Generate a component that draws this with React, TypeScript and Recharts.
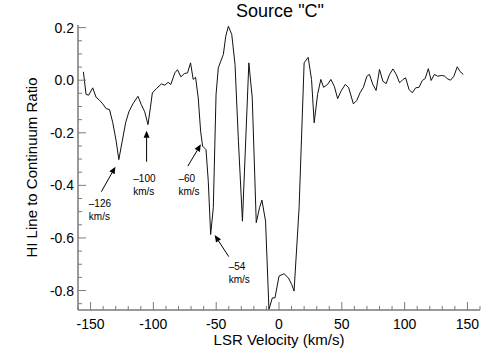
import { LineChart, Line, XAxis, YAxis, ReferenceLine, ReferenceDot } from "recharts";

// LSR velocity (km/s) and HI line-to-continuum ratio
const velocity = [
  -155.7, -153.6, -151.5, -148.3, -145.6, -142.9, -140.3, -137.6, -134.9, -132.3,
  -129.6, -127.5, -124.8, -122.1, -119.5, -116.3, -112.3, -109.6, -106.9, -104.3,
  -102.4, -100.8, -97.6, -93.6, -90.9, -88.3, -86.1, -82.9, -80.8, -78.1,
  -75.4, -72.8, -70.4, -68.3, -66.4, -64.3, -62.4, -60.8, -58.1, -56.3,
  -54.4, -52.3, -50.1, -48.3, -46.4, -44.3, -42.4, -40.3, -37.6, -35.0,
  -32.3, -29.1, -24.0, -21.3, -18.1, -15.5, -13.6, -10.7, -8.0, -5.3,
  -3.2, 0.0, 4.0, 7.5, 10.1, 12.0, 16.0, 20.0, 23.2, 25.9,
  28.0, 30.7, 33.3, 35.5, 38.7, 41.3, 44.0, 46.7, 49.3, 52.8,
  55.5, 59.2, 61.9, 64.5, 67.2, 69.9, 72.0, 74.7, 77.3, 80.0,
  82.7, 85.3, 88.0, 90.7, 93.3, 96.0, 98.7, 100.8, 103.5, 106.1,
  108.8, 111.5, 114.1, 116.3, 118.9, 121.1, 123.7, 126.4, 129.1, 131.7,
  133.9, 136.5, 139.2, 141.9, 144.0, 146.7,
];
const ratio = [
  0.032, -0.054, -0.057, -0.029, -0.065, -0.076, -0.09, -0.108, -0.112, -0.162,
  -0.232, -0.302, -0.232, -0.162, -0.12, -0.09, -0.061, -0.093, -0.12, -0.169,
  -0.105, -0.048, -0.032, -0.014, -0.019, -0.008, -0.016, 0.028, 0.04, 0.013,
  0.025, 0.028, 0.066, 0.003, 0.011, -0.067, -0.194, -0.251, -0.264, -0.384,
  -0.587, -0.485, -0.054, 0.047, 0.072, 0.098, 0.167, 0.205, 0.174, 0.06,
  -0.232, -0.536, 0.066, -0.067, -0.542, -0.485, -0.456, -0.536, -0.872, -0.828,
  -0.828, -0.745, -0.736, -0.752, -0.777, -0.802, -0.485, 0.066, 0.087, 0.003,
  -0.162, -0.054, 0.003, -0.027, -0.016, 0.003, -0.023, -0.07, -0.042, -0.016,
  -0.029, -0.09, -0.077, -0.048, -0.027, 0.015, 0.022, -0.016, -0.039, 0.041,
  -0.004, -0.013, 0.022, 0.043, 0.022, -0.01, 0.003, 0.009, -0.035, -0.048,
  -0.029, -0.027, -0.001, 0.006, 0.044, -0.001, 0.022, 0.015, 0.018, 0.016,
  0.006, 0, 0.015, 0.051, 0.034, 0.022,
];

const xMajorTicks = [-150, -100, -50, 0, 50, 100, 150];
const xMinorTicks = [
  -160, -140, -130, -120, -110, -90, -80, -70, -60, -40, -30, -20, -10,
  10, 20, 30, 40, 60, 70, 80, 90, 110, 120, 130, 140, 160,
];
const yMajorTicks = [-0.8, -0.6, -0.4, -0.2, 0.0, 0.2];
const yMinorTicks = [-0.85, -0.75, -0.7, -0.65, -0.55, -0.5, -0.45, -0.35, -0.3, -0.25, -0.15, -0.1, -0.05, 0.05, 0.1, 0.15];

// arrows: tail -> tip, and two-line label anchored at (lx, ly)
const annotations = [
  { tail: [-141.4, -0.424], tip: [-130.2, -0.329], lx: -151.4, ly: -0.4825, text: "\u2013126" },
  { tail: [-105.4, -0.31], tip: [-105.4, -0.192], lx: -116, ly: -0.387, text: "\u2013100" },
  { tail: [-72.6, -0.327], tip: [-62.2, -0.244], lx: -80, ly: -0.387, text: "\u201360" },
  { tail: [-40, -0.671], tip: [-51.2, -0.589], lx: -40, ly: -0.722, text: "\u201354" },
];

const data = velocity.map((v, i) => ({ v, r: ratio[i] }));
const xTicks = [...xMajorTicks, ...xMinorTicks].sort((a, b) => a - b);
const yTicks = [...yMajorTicks, ...yMinorTicks].sort((a, b) => a - b);

const FONT = "'Liberation Sans', Arial, Helvetica, sans-serif";
const FRAME = "#7a7a7a";
const isMajor = (list: number[], v: number) => list.some((m) => Math.abs(m - v) < 1e-9);

const BottomTick = (props: any) => {
  const { x, y, payload } = props;
  const major = isMajor(xMajorTicks, payload.value);
  return (
    <g>
      <line x1={x} y1={y} x2={x} y2={y - (major ? 8 : 4)} stroke={FRAME} strokeWidth={1} />
      {major && (
        <text x={x} y={y + 9} dy="0.71em" textAnchor="middle" fontSize={14} fontFamily={FONT} fill="#000">
          {String(payload.value)}
        </text>
      )}
    </g>
  );
};

const TopTick = (props: any) => {
  const { x, y, payload } = props;
  const major = isMajor(xMajorTicks, payload.value);
  return <line x1={x} y1={y} x2={x} y2={y + (major ? 8 : 4)} stroke={FRAME} strokeWidth={1} />;
};

const LeftTick = (props: any) => {
  const { x, y, payload } = props;
  const major = isMajor(yMajorTicks, payload.value);
  return (
    <g>
      <line x1={x} y1={y} x2={x + (major ? 8 : 4)} y2={y} stroke={FRAME} strokeWidth={1} />
      {major && (
        <text x={x - 4} y={y} dy="0.36em" textAnchor="end" fontSize={14} fontFamily={FONT} fill="#000">
          {payload.value.toFixed(1)}
        </text>
      )}
    </g>
  );
};

const RightTick = (props: any) => {
  const { x, y, payload } = props;
  const major = isMajor(yMajorTicks, payload.value);
  return <line x1={x} y1={y} x2={x - (major ? 8 : 4)} y2={y} stroke={FRAME} strokeWidth={1} />;
};

const Arrow = (props: any) => {
  const { x1, y1, x2, y2 } = props;
  const a = Math.atan2(y2 - y1, x2 - x1);
  const len = 7;
  const w = 3;
  const bx = x2 - len * Math.cos(a);
  const by = y2 - len * Math.sin(a);
  const px = -Math.sin(a) * w;
  const py = Math.cos(a) * w;
  return (
    <g>
      <line x1={x1} y1={y1} x2={bx} y2={by} stroke="#000" strokeWidth={1} />
      <polygon points={`${x2},${y2} ${bx + px},${by + py} ${bx - px},${by - py}`} fill="#000" />
    </g>
  );
};

const labelShape = (text: string) => (props: any) => (
  <text x={props.cx} y={props.cy} fontSize={10} fontFamily={FONT} fill="#000">
    <tspan x={props.cx}>{text}</tspan>
    <tspan x={props.cx} dy={13}>km/s</tspan>
  </text>
);

export default function App() {
  return (
    <div style={{ position: "absolute", left: 0, top: 0, width: 504, height: 360, background: "#fff" }}>
      <div
        style={{
          position: "absolute",
          left: 0,
          top: 2,
          width: 560,
          textAlign: "center",
          fontFamily: FONT,
          fontSize: 18,
          lineHeight: "18px",
          color: "#000",
        }}
      >
        Source "C"
      </div>
      <LineChart width={504} height={360} data={data} margin={{ top: 25, right: 24, left: 18, bottom: 20 }}>
        <XAxis
          dataKey="v"
          type="number"
          domain={[-160, 160]}
          allowDataOverflow
          ticks={xTicks}
          interval={0}
          height={30}
          tickSize={0}
          tickMargin={0}
          tickLine={false}
          axisLine={{ stroke: FRAME, strokeWidth: 1.5 }}
          tick={<BottomTick />}
          label={(p: any) => (
            <text
              x={p.viewBox.x + p.viewBox.width / 2}
              y={345}
              textAnchor="middle"
              fontSize={15}
              fontFamily={FONT}
              fill="#000"
            >
              LSR Velocity (km/s)
            </text>
          )}
        />
        <XAxis
          xAxisId="top"
          orientation="top"
          type="number"
          domain={[-160, 160]}
          allowDataOverflow
          ticks={xTicks}
          interval={0}
          height={0}
          tickSize={0}
          tickMargin={0}
          tickLine={false}
          axisLine={{ stroke: FRAME, strokeWidth: 1.5 }}
          tick={<TopTick />}
        />
        <YAxis
          type="number"
          domain={[-0.874, 0.21]}
          allowDataOverflow
          ticks={yTicks}
          interval={0}
          width={60}
          tickSize={0}
          tickMargin={0}
          tickLine={false}
          axisLine={{ stroke: FRAME, strokeWidth: 1.5 }}
          tick={<LeftTick />}
          label={(p: any) => {
            const cy = p.viewBox.y + p.viewBox.height / 2;
            return (
              <text
                x={37}
                y={cy}
                transform={`rotate(-90, 37, ${cy})`}
                textAnchor="middle"
                fontSize={15}
                fontFamily={FONT}
                fill="#000"
              >
                HI Line to Continuum Ratio
              </text>
            );
          }}
        />
        <YAxis
          yAxisId="right"
          orientation="right"
          type="number"
          domain={[-0.874, 0.21]}
          allowDataOverflow
          ticks={yTicks}
          interval={0}
          width={0}
          tickSize={0}
          tickMargin={0}
          tickLine={false}
          axisLine={{ stroke: FRAME, strokeWidth: 1.5 }}
          tick={<RightTick />}
        />
        <Line
          type="linear"
          dataKey="r"
          stroke="#111"
          strokeWidth={1}
          dot={false}
          isAnimationActive={false}
        />
        {annotations.map((a, i) => (
          <ReferenceLine
            key={`arrow-${i}`}
            segment={[
              { x: a.tail[0], y: a.tail[1] },
              { x: a.tip[0], y: a.tip[1] },
            ]}
            shape={Arrow}
          />
        ))}
        {annotations.map((a, i) => (
          <ReferenceDot key={`label-${i}`} x={a.lx} y={a.ly} r={0} shape={labelShape(a.text)} />
        ))}
      </LineChart>
    </div>
  );
}
